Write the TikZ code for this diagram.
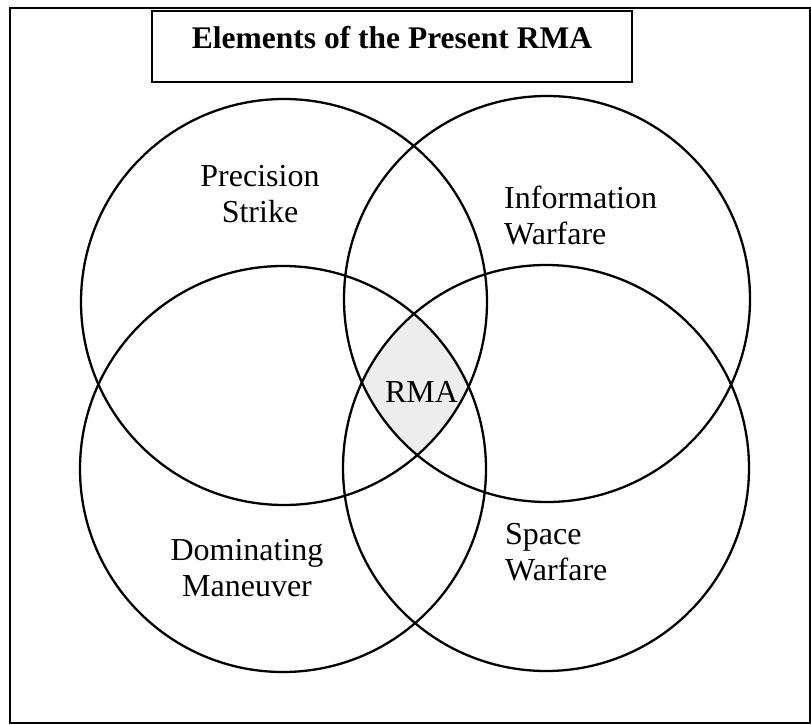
\documentclass[tikz,border=0pt]{standalone}
\usepackage{fontspec}
\setmainfont{Liberation Serif}
\begin{document}
\begin{tikzpicture}[x=1pt,y=-1pt,
  ring/.style={draw=black,line width=2.3pt},
  lbl/.style={font=\fontsize{32}{36}\selectfont,inner sep=0pt},
  titlebox/.style={draw=black,line width=2pt,inner sep=0pt,minimum width=480pt,
    text height=37.5pt,text depth=33.5pt,font=\bfseries\fontsize{31.5}{36}\selectfont}]
\useasboundingbox (0,0) rectangle (811,725);
% outer frame
\draw[line width=2pt] (9.5,8) rectangle (809.5,722.5);
% title
\node[titlebox,anchor=base] (title) at (392,48.5) {Elements of the Present RMA};
% circle centres
\coordinate (ctl) at (284,302);
\coordinate (ctr) at (547,299);
\coordinate (cbl) at (283,469);
\coordinate (cbr) at (546,468);
% shaded common region
\begin{scope}
  \clip (ctl) circle[radius=203pt];
  \clip (ctr) circle[radius=203pt];
  \clip (cbl) circle[radius=203pt];
  \fill[gray!14] (cbr) circle[radius=203pt];
\end{scope}
% circles
\draw[ring] (ctl) circle[radius=203pt];
\draw[ring] (ctr) circle[radius=203pt];
\draw[ring] (cbl) circle[radius=203pt];
\draw[ring] (cbr) circle[radius=203pt];
% labels (base anchor = baseline of the last line)
\node[lbl,align=center,anchor=base] (ps) at (260,222) {Precision\\Strike};
\node[lbl,align=left,anchor=base west] (iw) at (504,244) {Information\\Warfare};
\node[lbl,anchor=base] (rma) at (421.5,402) {RMA};
\node[lbl,align=center,anchor=base] (dm) at (247,596) {Dominating\\Maneuver};
\node[lbl,align=left,anchor=base west] (sw) at (505,580) {Space\\Warfare};
\end{tikzpicture}
\end{document}
